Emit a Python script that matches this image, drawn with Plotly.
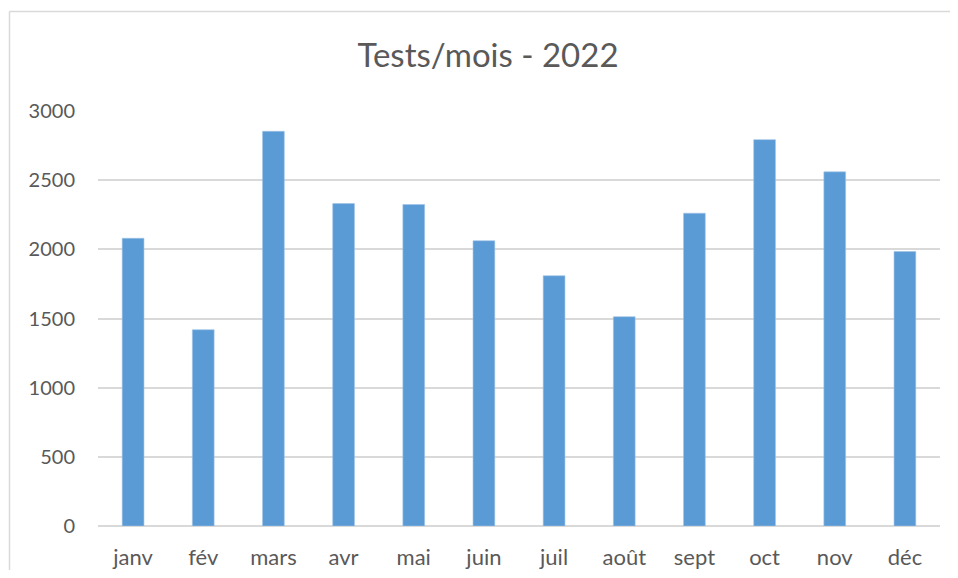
import plotly.graph_objects as go

months = ["janv", "fév", "mars", "avr", "mai", "juin", "juil", "août", "sept", "oct", "nov", "déc"]
tests = [2080, 1419, 2853, 2331, 2324, 2062, 1809, 1513, 2261, 2793, 2560, 1984]
y_ticks = [0, 500, 1000, 1500, 2000, 2500, 3000]

# page body has an 8px margin; figure coordinates are offset by it
OFF = 8
W, H = 958 - 2 * OFF, 578 - 2 * OFF
L, T = 98 - OFF, 111 - OFF
R = W - (940 - OFF)
B = H - (526 - OFF)
pw, ph = W - L - R, H - T - B

def px_x(p):
    return (p - OFF - L) / pw

def px_y(p):
    return (H - B - (p - OFF)) / ph

fig = go.Figure(go.Bar(
    x=months, y=tests,
    marker=dict(color="#5B9BD5", line=dict(color="#9DC3E6", width=0.6)),
))

frame_line = dict(color="#D9D9D9", width=1.5)
fig.update_layout(
    width=W, height=H,
    margin=dict(l=L, r=R, t=T, b=B, autoexpand=False),
    paper_bgcolor="white", plot_bgcolor="white",
    font=dict(family="Lato, 'Open Sans', sans-serif", color="#595959", size=20),
    bargap=0.69,
    showlegend=False,
    title=dict(text="Tests/mois - 2022", font=dict(size=33, color="#595959"),
               x=px_x(488), xref="paper", xanchor="center",
               y=1 - (55 - OFF) / H, yref="container", yanchor="middle"),
    xaxis=dict(showgrid=False, showline=False, ticks="", zeroline=False,
               tickfont=dict(size=22, color="#595959"), ticklabelstandoff=16),
    yaxis=dict(range=[0, 3000], tickvals=y_ticks, showgrid=True, gridcolor="#D9D9D9",
               gridwidth=1.5, zeroline=True, zerolinecolor="#D9D9D9", zerolinewidth=1.5,
               showline=False, ticks="", tickfont=dict(size=20, color="#595959"),
               ticklabelstandoff=22),
    shapes=[
        dict(type="line", xref="paper", yref="paper",
             x0=px_x(9.5), x1=px_x(9.5), y0=px_y(590), y1=px_y(11.5),
             line=frame_line, layer="below"),
        dict(type="line", xref="paper", yref="paper",
             x0=px_x(9.5), x1=px_x(970), y0=px_y(11.5), y1=px_y(11.5),
             line=frame_line, layer="below"),
    ],
)

fig.write_html("out.html")
